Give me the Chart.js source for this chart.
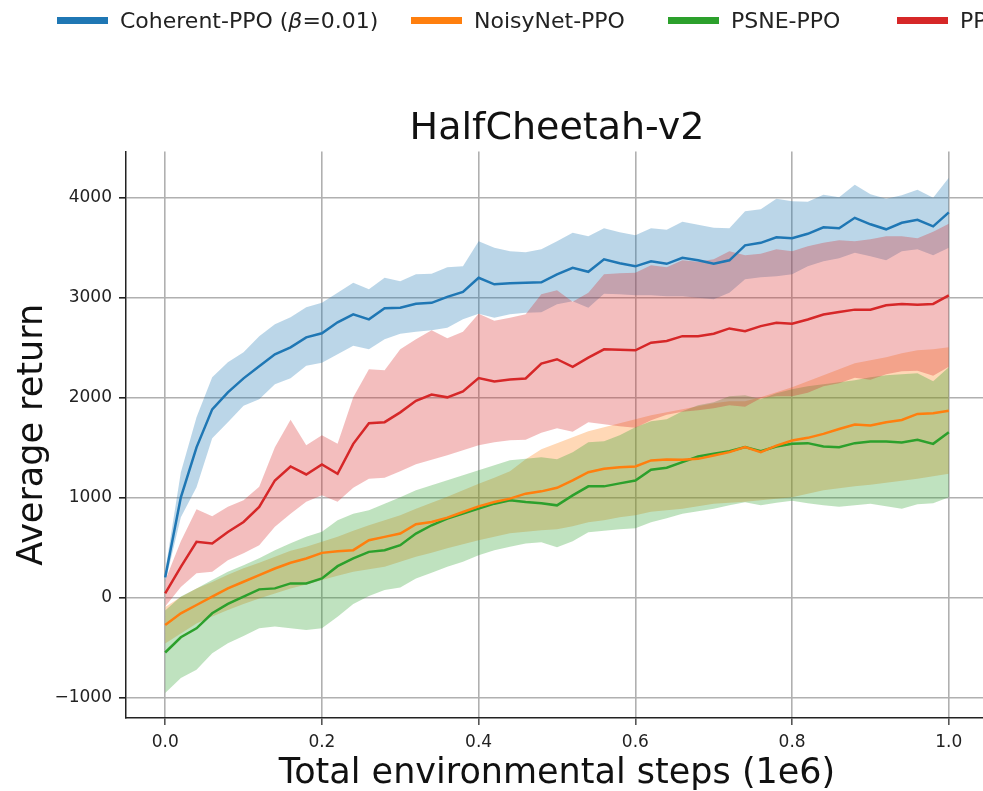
<!DOCTYPE html>
<html lang="en">
<head>
<meta charset="UTF-8">
<title>HalfCheetah-v2</title>
<style>
    html, body { margin: 0; padding: 0; background: #fff; overflow: hidden; }
    body { width: 983px; height: 791px; position: relative; font-family: 'DejaVu Sans', sans-serif; }
    #chart { position: absolute; left: 0; top: 0; }
    .legend-item { position: absolute; top: 6px; height: 28px; display: flex; align-items: center;
                   font-size: 22px; color: #222; white-space: nowrap; }
    .legend-item .swatch { display: inline-block; width: 51px; height: 7px; margin-right: 12px; }
</style>
<script src="https://cdn.jsdelivr.net/npm/chart.js"></script>
</head>
<body>
<canvas id="chart" width="988" height="791"></canvas>
<div id="legend"></div>
<script>
// total environmental steps (1e6)
const steps = [0, 0.02, 0.04, 0.06, 0.08, 0.1, 0.12, 0.14, 0.16, 0.18,
               0.2, 0.22, 0.24, 0.26, 0.28, 0.3, 0.32, 0.34, 0.36, 0.38,
               0.4, 0.42, 0.44, 0.46, 0.48, 0.5, 0.52, 0.54, 0.56, 0.58,
               0.6, 0.62, 0.64, 0.66, 0.68, 0.7, 0.72, 0.74, 0.76, 0.78,
               0.8, 0.82, 0.84, 0.86, 0.88, 0.9, 0.92, 0.94, 0.96, 0.98, 1.0];

const xTicks = [0, 0.2, 0.4, 0.6, 0.8, 1.0];
const yTicks = [-1000, 0, 1000, 2000, 3000, 4000];

const seriesNames = ['Coherent-PPO (β=0.01)', 'NoisyNet-PPO', 'PSNE-PPO', 'PPO'];

const coherentMean = [200, 1000, 1500, 1880, 2050, 2190, 2310, 2430, 2500, 2600,
                      2640, 2750, 2830, 2780, 2890, 2895, 2935, 2945, 3005, 3055,
                      3195, 3130, 3140, 3145, 3150, 3230, 3295, 3255, 3380, 3340,
                      3310, 3360, 3335, 3395, 3370, 3335, 3370, 3520, 3545, 3600,
                      3590, 3635, 3700, 3690, 3795, 3730, 3680, 3745, 3775, 3710, 3850];
const coherentUpper = [260, 1250, 1800, 2200, 2350, 2450, 2610, 2730, 2800, 2900,
                       2945, 3045, 3145, 3080, 3195, 3160, 3230, 3235, 3300, 3310,
                       3560, 3495, 3460, 3450, 3480, 3560, 3645, 3610, 3690, 3650,
                       3620, 3690, 3675, 3755, 3725, 3695, 3690, 3860, 3880, 3985,
                       3960, 3955, 4025, 4000, 4125, 4030, 3985, 4020, 4075, 3995, 4195];
const coherentLower = [150, 800, 1100, 1590, 1750, 1915, 1980, 2130, 2190, 2315,
                       2345, 2430, 2515, 2480, 2580, 2635, 2655, 2670, 2695, 2780,
                       2835, 2795, 2830, 2845, 2850, 2930, 2960, 2895, 3035, 3030,
                       3020, 3020, 3010, 3010, 2995, 2980, 3045, 3180, 3200, 3210,
                       3230, 3310, 3360, 3390, 3445, 3410, 3370, 3460, 3480, 3420, 3495];

const noisyMean = [-276, -159, -76, 7, 90, 156, 223, 289, 346, 389,
                   445, 462, 472, 571, 605, 638, 731, 754, 797, 854,
                   910, 953, 987, 1037, 1060, 1096, 1169, 1252, 1286, 1300,
                   1309, 1369, 1379, 1375, 1385, 1419, 1452, 1502, 1452, 1518,
                   1568, 1595, 1635, 1684, 1728, 1718, 1751, 1774, 1834, 1840, 1867];
const noisyUpper = [-95, 5, 90, 155, 225, 290, 345, 405, 465, 505,
                    555, 605, 665, 720, 770, 820, 885, 945, 1005, 1070,
                    1135, 1195, 1260, 1380, 1480, 1540, 1600, 1660, 1700, 1740,
                    1780, 1820, 1850, 1880, 1910, 1940, 1960, 1960, 2000, 2050,
                    2100, 2160, 2220, 2280, 2340, 2370, 2400, 2440, 2470, 2480, 2500];
const noisyLower = [-460, -360, -260, -190, -125, -65, -10, 40, 90, 130,
                    175, 215, 255, 280, 305, 355, 405, 445, 490, 530,
                    570, 605, 640, 655, 670, 680, 710, 750, 770, 800,
                    820, 855, 870, 885, 910, 935, 945, 955, 970, 985,
                    1000, 1035, 1070, 1090, 1110, 1125, 1145, 1165, 1185, 1210, 1235];

const psneMean = [-551, -399, -309, -159, -66, 7, 80, 90, 140, 140,
                  189, 312, 389, 455, 472, 522, 638, 721, 787, 837,
                  887, 937, 970, 953, 940, 920, 1020, 1110, 1110, 1140,
                  1169, 1276, 1296, 1352, 1409, 1435, 1462, 1502, 1462, 1508,
                  1535, 1542, 1508, 1502, 1542, 1558, 1558, 1548, 1575, 1535, 1651];
const psneUpper = [-130, 10, 90, 175, 255, 320, 390, 470, 540, 605,
                   655, 770, 835, 870, 935, 1000, 1070, 1120, 1170, 1220,
                   1270, 1320, 1370, 1385, 1400, 1380, 1450, 1550, 1560, 1620,
                   1700, 1760, 1780, 1860, 1920, 1950, 2010, 2020, 1980, 2040,
                   2080, 2110, 2130, 2150, 2170, 2200, 2220, 2230, 2240, 2160, 2300];
const psneLower = [-957, -807, -724, -558, -458, -385, -309, -292, -309, -326,
                   -309, -193, -66, 13, 73, 100, 189, 246, 306, 355,
                   422, 472, 505, 538, 550, 500, 560, 650, 665, 680,
                   690, 750, 790, 835, 860, 885, 920, 950, 920, 945,
                   965, 940, 920, 905, 920, 935, 910, 885, 930, 940, 1000];

const ppoMean = [40, 305, 555, 538, 654, 754, 904, 1169, 1309, 1229,
                 1329, 1236, 1535, 1742, 1752, 1850, 1965, 2027, 2000, 2060,
                 2192, 2159, 2179, 2189, 2338, 2381, 2305, 2397, 2480, 2475,
                 2470, 2546, 2563, 2612, 2612, 2636, 2689, 2662, 2712, 2745,
                 2735, 2778, 2828, 2854, 2877, 2877, 2921, 2934, 2927, 2934, 3020];
const ppoUpper = [170, 560, 880, 810, 905, 970, 1105, 1500, 1775, 1520,
                  1620, 1535, 2000, 2280, 2270, 2480, 2580, 2670, 2590, 2655,
                  2835, 2765, 2795, 2830, 3030, 3070, 2955, 3045, 3230, 3240,
                  3245, 3320, 3300, 3370, 3355, 3380, 3460, 3420, 3435, 3480,
                  3460, 3510, 3545, 3570, 3560, 3580, 3610, 3610, 3590, 3655, 3735];
const ppoLower = [-90, 105, 240, 255, 370, 440, 520, 705, 835, 955,
                  1020, 955, 1095, 1185, 1195, 1260, 1330, 1375, 1420, 1470,
                  1520, 1550, 1570, 1575, 1645, 1690, 1655, 1750, 1730, 1710,
                  1695, 1770, 1825, 1855, 1870, 1890, 1920, 1905, 1990, 2010,
                  2010, 2045, 2110, 2140, 2195, 2175, 2230, 2260, 2265, 2215, 2305];

const lineColors = ['#1f77b4', '#ff7f0e', '#2ca02c', '#d62728'];
const bandColors = ['rgba(31,119,180,0.3)', 'rgba(255,127,14,0.3)', 'rgba(44,160,44,0.3)', 'rgba(214,39,40,0.3)'];

const means = [coherentMean, noisyMean, psneMean, ppoMean];
const uppers = [coherentUpper, noisyUpper, psneUpper, ppoUpper];
const lowers = [coherentLower, noisyLower, psneLower, ppoLower];

function points(values) {
    return steps.map((x, i) => ({ x: x, y: values[i] }));
}

const datasets = [];
// shaded bands, painted in series order (a higher order is painted earlier)
for (let s = 0; s < 4; s++) {
    datasets.push({
        label: seriesNames[s] + ' lower', data: points(lowers[s]),
        borderWidth: 0, borderColor: 'transparent', fill: false, order: 4 - s
    });
    datasets.push({
        label: seriesNames[s] + ' upper', data: points(uppers[s]),
        borderWidth: 0, borderColor: 'transparent', backgroundColor: bandColors[s],
        fill: '-1', order: 4 - s
    });
}
// mean curves on top
for (let s = 0; s < 4; s++) {
    datasets.push({
        label: seriesNames[s], data: points(means[s]),
        borderColor: lineColors[s], borderWidth: 2.5, fill: false, order: 0
    });
}

Chart.defaults.font.family = "'DejaVu Sans', sans-serif";

new Chart(document.getElementById('chart'), {
    type: 'line',
    data: { datasets: datasets },
    options: {
        responsive: false,
        animation: false,
        devicePixelRatio: 1,
        layout: { padding: { left: 0, right: 0, top: 0, bottom: 0 } },
        elements: {
            point: { radius: 0, hoverRadius: 0 },
            line: { tension: 0 }
        },
        plugins: {
            legend: { display: false },
            tooltip: { enabled: false },
            title: {
                display: true,
                text: 'HalfCheetah-v2',
                fullSize: false,
                color: '#111',
                font: { size: 38, weight: 'normal' },
                padding: { top: 106, bottom: 0 }
            }
        },
        scales: {
            x: {
                type: 'linear',
                min: -0.05,
                max: 1.05,
                afterBuildTicks: scale => { scale.ticks = xTicks.map(v => ({ value: v })); },
                afterFit: scale => { scale.height = 73; },
                ticks: {
                    color: '#222',
                    font: { size: 17 },
                    padding: 7,
                    maxRotation: 0,
                    callback: v => Number(v).toFixed(1)
                },
                grid: { color: '#b0b0b0', lineWidth: 1.6, tickLength: 7, tickColor: '#555' },
                border: { color: '#222', width: 1.5 },
                title: {
                    display: true,
                    text: 'Total environmental steps (1e6)',
                    color: '#111',
                    font: { size: 35, lineHeight: 1.0 },
                    padding: 0
                }
            },
            y: {
                type: 'linear',
                min: -1206,
                max: 4457,
                afterBuildTicks: scale => { scale.ticks = yTicks.map(v => ({ value: v })); },
                afterFit: scale => { scale.width = 126; },
                ticks: {
                    color: '#222',
                    font: { size: 17 },
                    padding: 7,
                    callback: v => v < 0 ? '\u2212' + Math.abs(v) : String(v)
                },
                grid: { color: '#b0b0b0', lineWidth: 1.6, tickLength: 7, tickColor: '#222' },
                border: { color: '#222', width: 1.5 },
                title: {
                    display: true,
                    text: 'Average return',
                    color: '#111',
                    font: { size: 35 },
                    padding: { top: 12, bottom: 0 }
                }
            }
        }
    }
});

// legend along the top of the figure
const legendLeft = [57, 411, 668, 897];
const legendDiv = document.getElementById('legend');
seriesNames.forEach((name, s) => {
    const item = document.createElement('div');
    item.className = 'legend-item';
    item.style.left = legendLeft[s] + 'px';
    const swatch = document.createElement('span');
    swatch.className = 'swatch';
    swatch.style.background = lineColors[s];
    const text = document.createElement('span');
    text.innerHTML = name.replace('β', '<i>β</i>');
    item.appendChild(swatch);
    item.appendChild(text);
    legendDiv.appendChild(item);
});
</script>
</body>
</html>
